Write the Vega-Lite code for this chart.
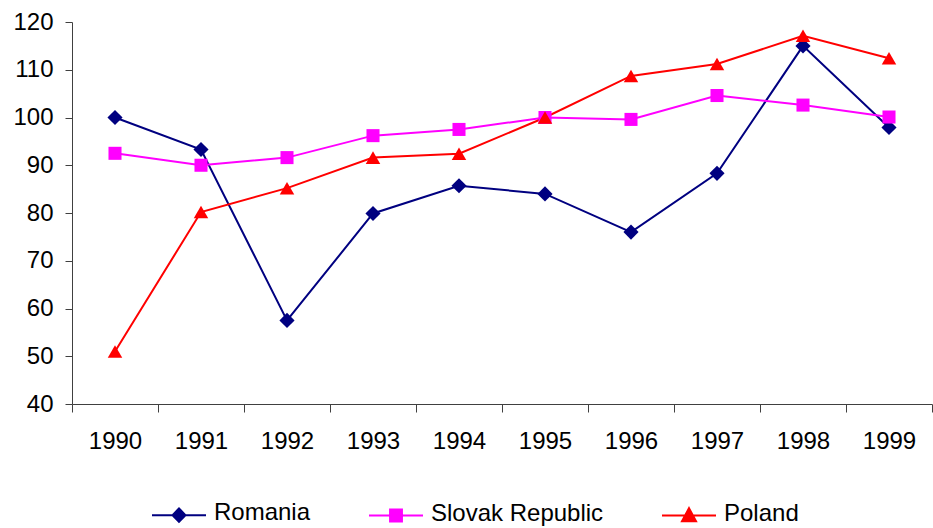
{
  "$schema": "https://vega.github.io/schema/vega-lite/v6.json",
  "autosize": "none",
  "width": 860,
  "height": 382,
  "padding": {"left": 72, "top": 22, "right": 1, "bottom": 124},
  "background": "white",
  "config": {
    "view": {"stroke": null},
    "font": "Liberation Sans"
  },
  "data": {
    "values": [
      {"year": "1990", "country": "Romania", "value": 100.0},
      {"year": "1991", "country": "Romania", "value": 93.3},
      {"year": "1992", "country": "Romania", "value": 57.5},
      {"year": "1993", "country": "Romania", "value": 79.9},
      {"year": "1994", "country": "Romania", "value": 85.7},
      {"year": "1995", "country": "Romania", "value": 84.0},
      {"year": "1996", "country": "Romania", "value": 76.0},
      {"year": "1997", "country": "Romania", "value": 88.3},
      {"year": "1998", "country": "Romania", "value": 115.0},
      {"year": "1999", "country": "Romania", "value": 97.9},
      {"year": "1990", "country": "Slovak Republic", "value": 92.5},
      {"year": "1991", "country": "Slovak Republic", "value": 90.0},
      {"year": "1992", "country": "Slovak Republic", "value": 91.6},
      {"year": "1993", "country": "Slovak Republic", "value": 96.2},
      {"year": "1994", "country": "Slovak Republic", "value": 97.5},
      {"year": "1995", "country": "Slovak Republic", "value": 100.0},
      {"year": "1996", "country": "Slovak Republic", "value": 99.6},
      {"year": "1997", "country": "Slovak Republic", "value": 104.6},
      {"year": "1998", "country": "Slovak Republic", "value": 102.6},
      {"year": "1999", "country": "Slovak Republic", "value": 100.1},
      {"year": "1990", "country": "Poland", "value": 51.0},
      {"year": "1991", "country": "Poland", "value": 80.2},
      {"year": "1992", "country": "Poland", "value": 85.2},
      {"year": "1993", "country": "Poland", "value": 91.6},
      {"year": "1994", "country": "Poland", "value": 92.4},
      {"year": "1995", "country": "Poland", "value": 100.0},
      {"year": "1996", "country": "Poland", "value": 108.7},
      {"year": "1997", "country": "Poland", "value": 111.2},
      {"year": "1998", "country": "Poland", "value": 117.1},
      {"year": "1999", "country": "Poland", "value": 112.4}
    ]
  },
  "encoding": {
    "x": {
      "field": "year",
      "type": "ordinal",
      "title": null,
      "scale": {"paddingInner": 0, "paddingOuter": 0},
      "axis": {
        "labelAngle": 0,
        "labelFontSize": 24,
        "labelColor": "black",
        "labelPadding": 17,
        "tickBand": "extent",
        "tickSize": 8,
        "tickColor": "#404040",
        "domainColor": "#404040",
        "tickWidth": 1,
        "domainWidth": 1
      }
    },
    "y": {
      "field": "value",
      "type": "quantitative",
      "title": null,
      "scale": {"domain": [40, 120], "nice": false, "zero": false},
      "axis": {
        "values": [40, 50, 60, 70, 80, 90, 100, 110, 120],
        "grid": false,
        "labelFontSize": 24,
        "labelColor": "black",
        "labelPadding": 12,
        "tickSize": 7,
        "tickColor": "#404040",
        "domainColor": "#404040"
      }
    },
    "color": {
      "field": "country",
      "type": "nominal",
      "scale": {
        "domain": ["Romania", "Slovak Republic", "Poland"],
        "range": ["#000080", "#FF00FF", "#FF0000"]
      },
      "legend": {
        "title": null,
        "orient": "none",
        "direction": "horizontal",
        "legendX": 79,
        "legendY": 465,
        "padding": 0,
        "labelFontSize": 24,
        "labelColor": "black",
        "labelLimit": 400,
        "labelOffset": 7,
        "columnPadding": 54,
        "symbolSize": 2916,
        "symbolStrokeWidth": 2,
        "encode": {
          "labels": {
            "update": {"dy": {"value": -2}}
          },
          "symbols": {
            "update": {
              "shape": {"signal": "datum.value === 'Romania' ? 'M-1,0H1M0,-0.25L0.24,0L0,0.25L-0.24,0Z' : datum.value === 'Slovak Republic' ? 'M-1,0H1M-0.22,-0.22H0.22V0.22H-0.22Z' : 'M-1,0H1M0,-0.27L0.26,0.21H-0.26Z'"},
              "fill": {"signal": "scale('color', datum.value)"},
              "stroke": {"signal": "scale('color', datum.value)"},
              "strokeWidth": {"value": 2},
              "opacity": {"value": 1}
            }
          }
        }
      }
    }
  },
  "layer": [
    {
      "mark": {"type": "line", "strokeWidth": 2},
      "encoding": {}
    },
    {
      "transform": [{"filter": "datum.country === 'Romania'"}],
      "mark": {"type": "point", "filled": true, "opacity": 1, "size": 230, "shape": "diamond"}
    },
    {
      "transform": [{"filter": "datum.country === 'Slovak Republic'"}],
      "mark": {"type": "point", "filled": true, "opacity": 1, "size": 170, "shape": "square"}
    },
    {
      "transform": [{"filter": "datum.country === 'Poland'"}],
      "mark": {"type": "point", "filled": true, "opacity": 1, "size": 210, "shape": "triangle-up"}
    }
  ]
}
